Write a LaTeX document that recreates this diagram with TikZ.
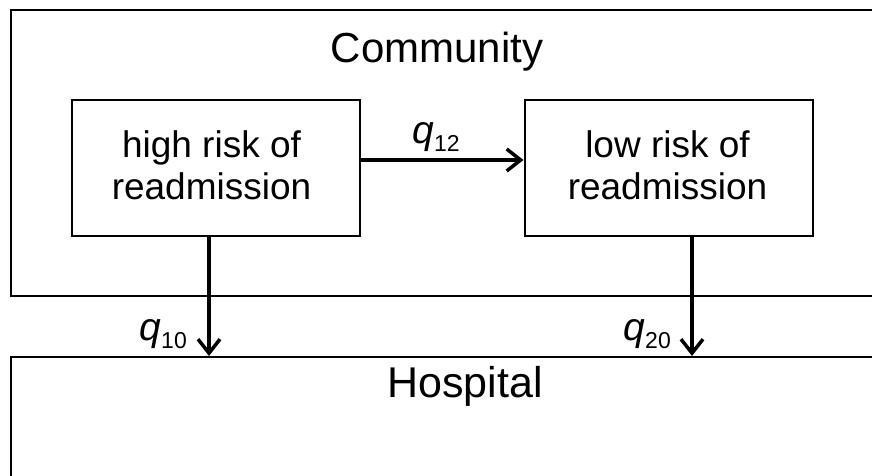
\documentclass[tikz,border=0pt]{standalone}
\usepackage{fontspec}
\setmainfont{Liberation Sans}
\usetikzlibrary{arrows.meta,calc}
\newcommand\ratelbl[1]{\textit{q}\raisebox{-8pt}{\fontsize{23}{23}\selectfont #1}}
\begin{document}
\begin{tikzpicture}[x=1pt,y=1pt,
  frame/.style={draw, line width=2.5pt, inner sep=0pt, minimum width=889pt},
  riskbox/.style={draw, line width=2pt, minimum width=288pt, minimum height=136pt, inner sep=0pt},
  risktext/.style={font=\fontsize{37}{42}\selectfont, align=center, inner sep=0pt},
  title/.style={font=\fontsize{42}{48}\selectfont, anchor=base, inner sep=0pt},
  flow/.style={line width=3.5pt, -{Straight Barb[length=14pt,width=22pt]}},
  rate/.style={font=\fontsize{39}{42}\selectfont, inner sep=0pt}]
\useasboundingbox (0,0) rectangle (872,476);
\clip (0,0) rectangle (872,476);
% outer frames
\node[frame, minimum height=286pt] (community) at (455.5,323) {};
\node[frame, line width=2pt, minimum height=149pt] (hospital) at (455.5,44.5) {};
\node[title] (comtitle) at (437,413) {Community};
\node[title, font=\fontsize{43}{48}\selectfont] (hosptitle) at (465,78) {Hospital};
% risk states
\node[riskbox] (high) at (215.5,308) {};
\node[riskbox] (low) at (668.5,308) {};
\node[risktext] (hightext) at ([xshift=-4pt,yshift=2.5pt]high.center) {high risk of\\readmission};
\node[risktext] (lowtext) at ([xshift=-1pt,yshift=2.5pt]low.center) {low risk of\\readmission};
% transitions
\draw[flow] ([yshift=8pt]high.east) -- ([yshift=8pt]low.west);
\node[rate, anchor=base] (q12) at ($(high.east)!0.5!(low.west)+(-6,24)$) {\ratelbl{12}};
\coordinate (hs) at ([xshift=-6.5pt]high.south);
\coordinate (he) at (hs |- hospital.north);
\coordinate (ls) at ([xshift=23.5pt]low.south);
\coordinate (le) at (ls |- hospital.north);
\draw[flow] (hs) -- (he);
\draw[flow] (ls) -- (le);
\node[rate, anchor=base east] (q10) at ([xshift=-22pt,yshift=15pt]he) {\ratelbl{10}};
\node[rate, anchor=base east] (q20) at ([xshift=-21pt,yshift=15pt]le) {\ratelbl{20}};
\end{tikzpicture}
\end{document}
